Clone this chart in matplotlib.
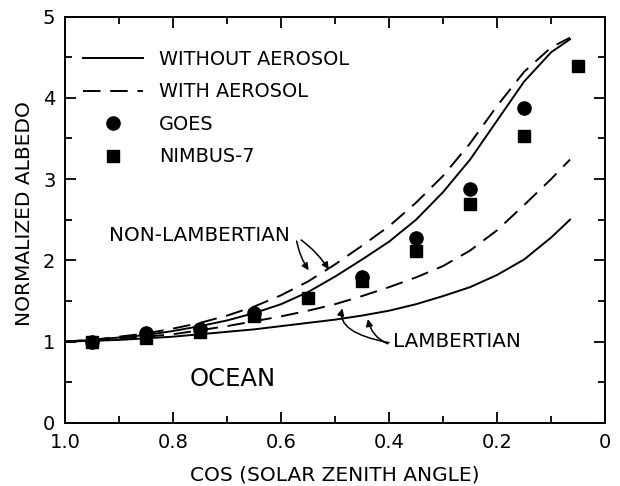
import matplotlib
matplotlib.use("Agg")
import matplotlib.pyplot as plt
from matplotlib.lines import Line2D
from matplotlib.ticker import MultipleLocator, FixedLocator

# ---- data ----
curve_x = [1.0, 0.95, 0.9, 0.85, 0.8, 0.75, 0.7, 0.65, 0.6, 0.55, 0.5, 0.45,
           0.4, 0.35, 0.3, 0.25, 0.2, 0.15, 0.1, 0.065]
nonlamb_no_aer = [1.0, 1.02, 1.05, 1.08, 1.13, 1.19, 1.26, 1.35, 1.46, 1.61, 1.80, 2.01,
                  2.23, 2.50, 2.84, 3.24, 3.72, 4.20, 4.56, 4.72]
nonlamb_aer = [1.0, 1.02, 1.06, 1.10, 1.16, 1.23, 1.32, 1.43, 1.57, 1.74, 1.95, 2.18,
               2.42, 2.71, 3.04, 3.44, 3.90, 4.32, 4.62, 4.74]
lamb_aer = [1.0, 1.01, 1.03, 1.06, 1.09, 1.14, 1.19, 1.25, 1.31, 1.38, 1.46, 1.56,
            1.67, 1.79, 1.93, 2.12, 2.37, 2.68, 3.00, 3.24]
lamb_no_aer = [1.0, 1.01, 1.02, 1.04, 1.06, 1.09, 1.12, 1.15, 1.19, 1.23, 1.27, 1.32,
               1.38, 1.46, 1.56, 1.67, 1.82, 2.01, 2.28, 2.50]

goes_x = [0.95, 0.85, 0.75, 0.65, 0.45, 0.35, 0.25, 0.15]
goes_y = [1.00, 1.11, 1.16, 1.35, 1.80, 2.27, 2.88, 3.88]
nimbus_x = [0.95, 0.85, 0.75, 0.65, 0.55, 0.45, 0.35, 0.25, 0.15, 0.05]
nimbus_y = [1.00, 1.04, 1.12, 1.31, 1.53, 1.74, 2.12, 2.69, 3.53, 4.39]

xtick_vals = [1.0, 0.8, 0.6, 0.4, 0.2, 0.0]
xtick_labels = ["1.0", "0.8", "0.6", "0.4", "0.2", "0"]
ytick_vals = [0, 1, 2, 3, 4, 5]

plt.rcParams['font.family'] = ['DejaVu Sans']

fig = plt.figure(figsize=(6.2, 4.86), dpi=100)
ax = fig.add_axes([0.105, 0.130, 0.871, 0.836])

lw = 1.4
dash = (9, 5)
ax.plot(curve_x, nonlamb_no_aer, color='black', lw=lw)
ax.plot(curve_x, nonlamb_aer, color='black', lw=lw, dashes=dash)
ax.plot(curve_x, lamb_aer, color='black', lw=lw, dashes=dash)
ax.plot(curve_x, lamb_no_aer, color='black', lw=lw)
ax.plot(goes_x, goes_y, 'o', color='black', ms=9.5, ls='none')
ax.plot(nimbus_x, nimbus_y, 's', color='black', ms=8.5, ls='none')

ax.set_xlim(1.0, 0.0)
ax.set_ylim(0, 5)
ax.xaxis.set_major_locator(FixedLocator(xtick_vals))
ax.set_xticklabels(xtick_labels)
ax.xaxis.set_minor_locator(MultipleLocator(0.1))
ax.yaxis.set_major_locator(FixedLocator(ytick_vals))
ax.yaxis.set_minor_locator(MultipleLocator(0.5))
ax.tick_params(which='both', direction='in', top=True, right=True, width=1.3,
               labelsize=14, pad=7)
ax.tick_params(which='major', length=8)
ax.tick_params(which='minor', length=5)
for s in ax.spines.values():
    s.set_linewidth(1.4)

ax.set_xlabel("COS (SOLAR ZENITH ANGLE)", fontsize=14.5, labelpad=10)
ax.set_ylabel("NORMALIZED ALBEDO", fontsize=14.5, labelpad=6)
ax.yaxis.set_label_coords(-0.058, 0.515)

handles = [
    Line2D([], [], color='black', lw=lw),
    Line2D([], [], color='black', lw=lw, dashes=dash),
    Line2D([], [], marker='o', color='black', ms=9.5, ls='none'),
    Line2D([], [], marker='s', color='black', ms=8.5, ls='none'),
]
labels = ["WITHOUT AEROSOL", "WITH AEROSOL", "GOES", "NIMBUS-7"]
ax.legend(handles, labels, loc='upper left', bbox_to_anchor=(0.033, 0.918),
          frameon=False, fontsize=13.9, handlelength=3.1, handletextpad=0.85,
          labelspacing=0.7, borderpad=0, borderaxespad=0)

# annotations
ax.text(0.918, 2.30, "NON-LAMBERTIAN", fontsize=14.3, ha='left', va='center')
ax.annotate("", xy=(0.546, 1.85), xytext=(0.572, 2.27),
            arrowprops=dict(arrowstyle='-|>', color='black', lw=1.1,
                            connectionstyle='arc3,rad=0.12', mutation_scale=10))
ax.annotate("", xy=(0.509, 1.86), xytext=(0.567, 2.27),
            arrowprops=dict(arrowstyle='-|>', color='black', lw=1.1,
                            connectionstyle='arc3,rad=-0.1', mutation_scale=10))

ax.text(0.392, 1.00, "LAMBERTIAN", fontsize=14.3, ha='left', va='center')
ax.annotate("", xy=(0.485, 1.44), xytext=(0.395, 0.98),
            arrowprops=dict(arrowstyle='-|>', color='black', lw=1.1,
                            connectionstyle='angle3,angleA=170,angleB=70', mutation_scale=10))
ax.annotate("", xy=(0.440, 1.31), xytext=(0.398, 0.96),
            arrowprops=dict(arrowstyle='-|>', color='black', lw=1.1,
                            connectionstyle='arc3,rad=-0.3', mutation_scale=10))

ax.text(0.69, 0.54, "OCEAN", fontsize=17.5, ha='center', va='center')

fig.savefig("out.png", dpi=100)
